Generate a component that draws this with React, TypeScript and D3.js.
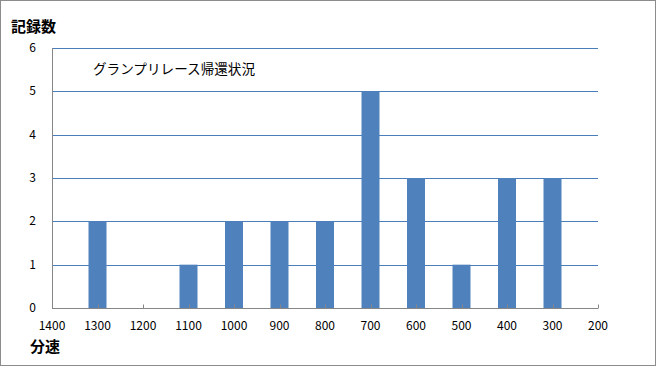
import { useRef, useEffect } from 'react';
import * as d3 from 'd3';

// data
const speeds = [1300, 1200, 1100, 1000, 900, 800, 700, 600, 500, 400, 300];
const counts = [2, 0, 1, 2, 2, 2, 5, 3, 1, 3, 3];
const xTicks = [1400, 1300, 1200, 1100, 1000, 900, 800, 700, 600, 500, 400, 300, 200];
const yTicks = [0, 1, 2, 3, 4, 5, 6];

const W = 656;
const H = 366;
const margins = { left: 52, right: 58, top: 48, bottom: 58 };

export default function App() {
  const svgRef = useRef<SVGSVGElement | null>(null);

  useEffect(() => {
    document.body.style.margin = '0';
    const svg = d3.select(svgRef.current).attr('width', W).attr('height', H);
    svg.selectAll('*').remove();

    const x = d3.scaleLinear().domain([1400, 200]).range([margins.left, W - margins.right]);
    const y = d3.scaleLinear().domain([0, 6]).range([H - margins.bottom, margins.top]);
    const font = "'Noto Sans CJK JP', 'Noto Sans', sans-serif";

    // outer frame
    svg.append('rect')
      .attr('x', 0.5).attr('y', 0.5)
      .attr('width', W - 1).attr('height', H - 1)
      .attr('fill', '#fff')
      .attr('stroke', '#8c8c8c');

    // gridlines
    svg.append('g')
      .selectAll('line')
      .data(yTicks.filter((d) => d > 0))
      .join('line')
      .attr('x1', x(1400)).attr('x2', x(200))
      .attr('y1', (d) => Math.round(y(d)) + 0.5)
      .attr('y2', (d) => Math.round(y(d)) + 0.5)
      .attr('stroke', '#4a7ebb')
      .attr('stroke-width', 1);

    // bars
    const barW = 18;
    svg.append('g')
      .selectAll('rect')
      .data(speeds.map((s, i) => ({ s, c: counts[i] })).filter((d) => d.c > 0))
      .join('rect')
      .attr('x', (d) => x(d.s) - barW / 2)
      .attr('y', (d) => y(d.c))
      .attr('width', barW)
      .attr('height', (d) => y(0) - y(d.c))
      .attr('fill', '#4f81bd');

    // axes lines
    const y0 = Math.round(y(0)) + 0.5;
    svg.append('line')
      .attr('x1', x(1400) + 0.5).attr('x2', x(1400) + 0.5)
      .attr('y1', y(6)).attr('y2', y0)
      .attr('stroke', '#868686');
    svg.append('line')
      .attr('x1', x(1400)).attr('x2', x(200))
      .attr('y1', y0).attr('y2', y0)
      .attr('stroke', '#868686');
    svg.append('g')
      .selectAll('line')
      .data(xTicks)
      .join('line')
      .attr('x1', (d) => Math.round(x(d)) + 0.5)
      .attr('x2', (d) => Math.round(x(d)) + 0.5)
      .attr('y1', y0 - 4).attr('y2', y0)
      .attr('stroke', '#868686');

    // y tick labels
    svg.append('g')
      .selectAll('text')
      .data(yTicks)
      .join('text')
      .attr('x', 36)
      .attr('y', (d) => y(d) + 4)
      .attr('text-anchor', 'end')
      .attr('font-family', font)
      .attr('font-size', 12)
      .attr('fill', '#000')
      .text((d) => d);

    // x tick labels
    svg.append('g')
      .selectAll('text')
      .data(xTicks)
      .join('text')
      .attr('x', (d) => x(d))
      .attr('y', y(0) + 22)
      .attr('text-anchor', 'middle')
      .attr('font-family', font)
      .attr('font-size', 12)
      .attr('fill', '#000')
      .text((d) => d);

    // axis titles
    svg.append('text')
      .attr('x', 11).attr('y', 32)
      .attr('font-family', font)
      .attr('font-size', 15)
      .attr('font-weight', 'bold')
      .text('記録数');
    svg.append('text')
      .attr('x', 30).attr('y', 352)
      .attr('font-family', font)
      .attr('font-size', 15)
      .attr('font-weight', 'bold')
      .text('分速');

    // chart note
    svg.append('text')
      .attr('x', 93).attr('y', 74)
      .attr('font-family', font)
      .attr('font-size', 13.6)
      .text('グランプリレース帰還状況');
  }, []);

  return <svg ref={svgRef} style={{ display: 'block' }} />;
}
